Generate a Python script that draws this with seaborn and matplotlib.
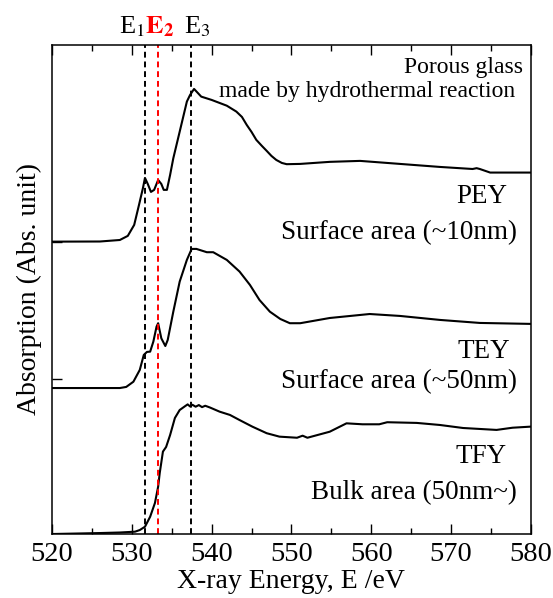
import matplotlib
matplotlib.use("Agg")
import matplotlib.pyplot as plt
import seaborn as sns
import pandas as pd
from matplotlib.ticker import MultipleLocator

# Espectros (energia en eV, absorcion con desplazamiento vertical)
pey_e = [520.0, 526.0, 528.5, 529.5, 530.3, 530.9, 531.4, 531.65, 532.0, 532.4, 532.8, 533.3,
         533.7, 534.0, 534.4, 534.8, 535.2, 536.0, 536.9, 537.3, 537.8, 538.7, 540.0, 541.9,
         543.1, 543.8, 544.4, 545.0, 545.6, 546.3, 546.9, 547.5, 548.1, 548.8, 549.4, 551.1,
         554.8, 558.6, 563.6, 568.6, 572.7, 573.2, 573.6, 574.9, 580.0]
pey_y = [2.000, 2.001, 2.012, 2.042, 2.122, 2.267, 2.391, 2.464, 2.420, 2.362, 2.377, 2.449,
         2.420, 2.377, 2.377, 2.486, 2.607, 2.801, 3.020, 3.068, 3.112, 3.056, 3.032, 2.990,
         2.947, 2.908, 2.850, 2.799, 2.741, 2.697, 2.661, 2.624, 2.595, 2.573, 2.564, 2.566,
         2.581, 2.588, 2.566, 2.544, 2.529, 2.535, 2.529, 2.503, 2.503]

tey_e = [520.0, 528.5, 529.3, 530.2, 531.0, 531.5, 531.9, 532.3, 532.7, 533.1, 533.3, 533.7,
         534.2, 534.5, 535.2, 536.0, 536.9, 537.5, 538.1, 539.4, 540.2, 541.9, 543.5, 544.8,
         546.0, 547.3, 548.6, 549.8, 551.1, 554.8, 559.8, 563.6, 568.6, 573.6, 580.0]
tey_y = [0.934, 0.934, 0.942, 0.980, 1.066, 1.175, 1.197, 1.199, 1.272, 1.381, 1.406, 1.296,
         1.240, 1.284, 1.490, 1.709, 1.867, 1.947, 1.947, 1.923, 1.923, 1.867, 1.782, 1.685,
         1.575, 1.490, 1.437, 1.406, 1.406, 1.444, 1.473, 1.459, 1.430, 1.408, 1.401]

tfy_e = [520.0, 523.5, 526.0, 528.5, 530.4, 531.0, 531.65, 532.3, 532.9, 533.3, 533.5, 533.9,
         534.3, 534.8, 535.4, 536.0, 536.7, 537.0, 537.3, 537.6, 538.0, 538.4, 538.8, 539.2,
         539.8, 541.0, 542.3, 543.5, 545.1, 546.9, 548.5, 550.7, 551.4, 552.0, 554.8, 556.9,
         558.9, 561.0, 562.0, 565.7, 568.6, 571.5, 575.7, 577.7, 580.0]
tfy_y = [-0.129, -0.125, -0.122, -0.118, -0.112, -0.100, -0.076, -0.003, 0.097, 0.216, 0.315,
         0.471, 0.505, 0.592, 0.716, 0.774, 0.803, 0.815, 0.800, 0.812, 0.798, 0.810, 0.795,
         0.805, 0.792, 0.762, 0.738, 0.701, 0.653, 0.605, 0.580, 0.572, 0.587, 0.572, 0.616,
         0.677, 0.670, 0.670, 0.685, 0.680, 0.665, 0.643, 0.629, 0.645, 0.653]

# Energias de referencia (lineas discontinuas)
e_lines = [531.6, 533.3, 537.4]
e_colors = ["black", "red", "black"]

sns.set_theme(style="ticks")
plt.rcParams["font.family"] = ["Liberation Serif", "DejaVu Serif"]
plt.rcParams["mathtext.fontset"] = "stix"
plt.rcParams["text.color"] = "black"
plt.rcParams["axes.labelcolor"] = "black"
plt.rcParams["xtick.color"] = "black"
plt.rcParams["ytick.color"] = "black"

fig = plt.figure(figsize=(5.53, 5.98), dpi=100)
ax = fig.add_axes([0.094, 0.107, 0.866, 0.818])

for e, y in [(pey_e, pey_y), (tey_e, tey_y), (tfy_e, tfy_y)]:
    df = pd.DataFrame({"E": e, "A": y})
    sns.lineplot(data=df, x="E", y="A", color="black", linewidth=1.5, ax=ax, sort=False)

for xe, c in zip(e_lines, e_colors):
    ax.axvline(xe, color=c, linestyle=(0, (3, 2)), linewidth=1.4)

ax.set_xlim(520, 580)
ax.set_ylim(-0.129, 3.433)
ax.xaxis.set_major_locator(MultipleLocator(10))
ax.xaxis.set_minor_locator(MultipleLocator(5))
ax.set_yticks([1, 2])
ax.set_yticklabels([])
ax.tick_params(axis="x", which="both", direction="in", top=True, bottom=True, labelsize=20.5, pad=6)
ax.tick_params(axis="x", which="major", length=7, width=1)
ax.tick_params(axis="x", which="minor", length=4, width=1)
ax.tick_params(axis="y", direction="in", length=7, width=1, left=True, right=False)
for s in ax.spines.values():
    s.set_linewidth(1.1)
    s.set_color("black")

ax.set_xlabel("X-ray Energy, E /eV", fontsize=20, labelpad=1)
ax.set_ylabel("Absorption (Abs. unit)", fontsize=20, labelpad=4)

# Etiquetas de las energias sobre el eje
xt = ax.get_xaxis_transform()
ax.text(531.6, 1.012, r"E$_1$", transform=xt, ha="right", va="bottom", fontsize=19)
ax.text(533.5, 1.012, r"$\mathbf{E_2}$", transform=xt, ha="center", va="bottom",
        fontsize=19, color="red")
ax.text(538.2, 1.012, r"E$_3$", transform=xt, ha="center", va="bottom", fontsize=19)

ax.text(579.0, 3.265, "Porous glass", ha="right", va="center", fontsize=17)
ax.text(578.0, 3.090, "made by hydrothermal reaction", ha="right", va="center", fontsize=17)

ax.text(577.0, 2.326, "PEY", ha="right", va="center", fontsize=19.5)
ax.text(578.25, 2.063, "Surface area (~10nm)", ha="right", va="center", fontsize=19.5)
ax.text(577.4, 1.197, "TEY", ha="right", va="center", fontsize=19.5)
ax.text(578.25, 0.978, "Surface area (~50nm)", ha="right", va="center", fontsize=19.5)
ax.text(577.0, 0.432, "TFY", ha="right", va="center", fontsize=19.5)
ax.text(578.25, 0.170, "Bulk area (50nm~)", ha="right", va="center", fontsize=19.5)

plt.savefig("out.png", dpi=100)
